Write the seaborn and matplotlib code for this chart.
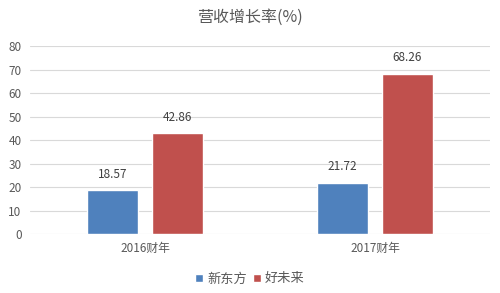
import matplotlib
matplotlib.use("Agg")
import matplotlib.pyplot as plt
import seaborn as sns
import pandas as pd

categories = ["2016财年", "2017财年"]
series_names = ["新东方", "好未来"]
xdf_values = [18.57, 21.72]
tal_values = [42.86, 68.26]
yticks = [0, 10, 20, 30, 40, 50, 60, 70, 80]
colors = ["#4F81BD", "#C0504D"]

sns.set_theme(style="white")
plt.rcParams['font.family'] = ['Noto Sans CJK SC', 'DejaVu Sans']

df = pd.DataFrame({
    "year": categories * 2,
    "company": [series_names[0]] * 2 + [series_names[1]] * 2,
    "value": xdf_values + tal_values,
})

fig = plt.figure(figsize=(5.0, 2.93), dpi=100)
ax = fig.add_axes([0.06, 0.201, 0.92, 0.642])
sns.barplot(data=df, x="year", y="value", hue="company", palette=colors,
            width=0.565, gap=0.215, ax=ax, legend=True, saturation=1)

ax.set_xlim(-0.5, 1.5)
ax.set_ylim(0, 80)
ax.set_yticks(yticks)
ax.yaxis.grid(True, color="#D9D9D9", linewidth=0.8)
ax.set_axisbelow(True)
for s in ax.spines.values():
    s.set_visible(False)
ax.tick_params(axis="both", length=0, labelsize=8.5, colors="#595959", pad=6)
ax.set_xlabel("")
ax.set_ylabel("")

for cont in ax.containers:
    ax.bar_label(cont, labels=[f"{v:.2f}" for v in cont.datavalues],
                 padding=7, fontsize=8.5, color="#404040")

fig.text(0.5, 0.94, "营收增长率(%)", ha="center", va="center", fontsize=11.5, color="#595959")

leg = ax.legend(loc="center", bbox_to_anchor=(0.5, 0.048), bbox_transform=fig.transFigure,
                ncol=2, frameon=False, fontsize=9.5, handlelength=0.6, handleheight=0.6,
                handletextpad=0.3, columnspacing=0.5)
for t in leg.get_texts():
    t.set_color("#595959")

fig.savefig("out.png", dpi=100)
